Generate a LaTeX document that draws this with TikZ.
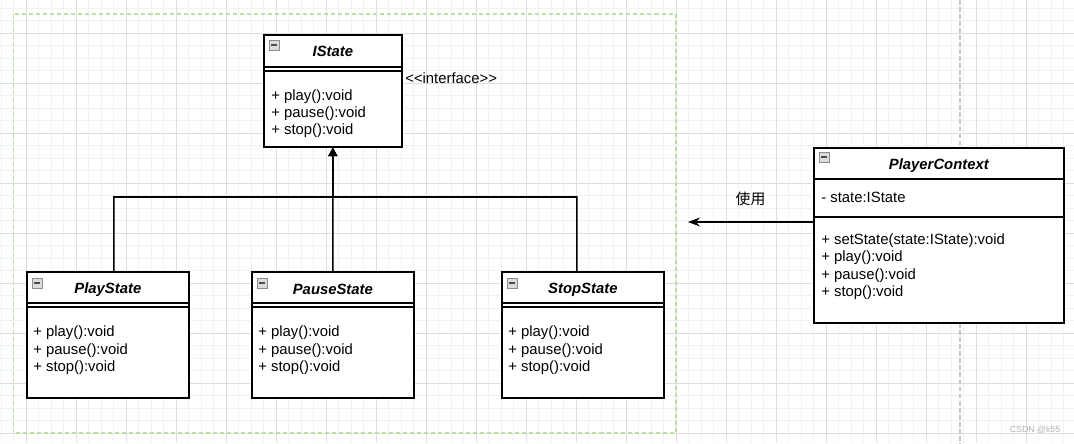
\documentclass[tikz,border=0pt]{standalone}
\usepackage{fontspec}
\setmainfont{Liberation Sans}
\newfontfamily\cjk{Noto Sans CJK SC}
\usepackage{tikz}
\usetikzlibrary{calc}
\usetikzlibrary{arrows.meta}
\tikzset{>={Stealth[width=1.8mm,length=2.4mm]}}
\definecolor{framegreen}{RGB}{185,224,165}

\begin{document}
\begin{tikzpicture}[
    x = 0.02cm, y = -0.02cm,
    font = \fontsize{8.45}{10}\selectfont,
    gridminor/.style = {draw=black!5, line width=0.55pt},
    gridmajor/.style = {draw=black!13, line width=0.55pt},
    cls/.style = {draw, line width=1pt, fill=white, inner sep=0pt,
        anchor=north west},
    sep/.style = {line width=1pt},
    title/.style = {inner sep=0pt, font=\fontsize{8.45}{10}\selectfont\bfseries\itshape},
    op/.style = {anchor=west, inner sep=0pt},
    icon/.style = {draw=black!45, fill=black!14, line width=0.5pt},
    inherit/.style = {line width=0.9pt, -{Triangle[length=1.7mm,width=1.8mm]}}
  ]
  \useasboundingbox (0,0) rectangle (1074,443);
  \fill[white] (0,0) rectangle (1074,443);
  \foreach \gx in {1,13.5,...,1074} \draw[gridminor] (\gx,0) -- (\gx,443);
  \foreach \gy in {8,20.5,...,443} \draw[gridminor] (0,\gy) -- (1074,\gy);
  \foreach \gx in {26,76,...,1074} \draw[gridmajor] (\gx,0) -- (\gx,443);
  \foreach \gy in {33,83,...,443} \draw[gridmajor] (0,\gy) -- (1074,\gy);

  \draw[black!22, line width=0.8pt, dash pattern=on 2.8pt off 1.2pt] (960,0) -- (960,443);
  \draw[framegreen, line width=0.85pt, dash pattern=on 2.3pt off 1.7pt]
    (13.5,14) rectangle (676,433);

  % interface
  \node[cls, minimum width=2.76cm, minimum height=2.24cm] (IState) at (263,34) {};
  \draw[sep] ($(IState.north west)+(0,33)$) -- ($(IState.north east)+(0,33)$)
             ($(IState.north west)+(0,37)$) -- ($(IState.north east)+(0,37)$);
  \draw[icon] ($(IState.north west)+(6,6)$) rectangle +(10,10);
  \draw[black!70, line width=0.8pt] ($(IState.north west)+(8,11)$) -- +(6,0);
  \node[title] (IState-name) at ($(IState.north)+(0,17.5)$) {IState};
  \foreach \m [count=\k] in {play,pause,stop}
    \node[op] (IState-\m) at ($(IState.north west)+(8,46+17*\k)$) {+ \m():void};
  \node[op] (IState-kind) at (405,78) {<\kern0pt<interface>\kern0pt>};

  % states
  \foreach \nm/\x in {PlayState/26, PauseState/251, StopState/501} {
    \node[cls, minimum width=3.24cm, minimum height=2.52cm] (\nm) at (\x,271) {};
    \draw[sep] ($(\nm.north west)+(0,32)$) -- ($(\nm.north east)+(0,32)$)
               ($(\nm.north west)+(0,36)$) -- ($(\nm.north east)+(0,36)$);
    \draw[icon] ($(\nm.north west)+(6,7)$) rectangle +(10,10);
    \draw[black!70, line width=0.8pt] ($(\nm.north west)+(8,12)$) -- +(6,0);
    \node[title] (\nm-name) at ($(\nm.north)+(0,18.5)$) {\nm};
    \foreach \m [count=\k] in {play,pause,stop}
      \node[op] (\nm-\m) at ($(\nm.north west)+(7,44.5+17.5*\k)$) {+ \m():void};
  }

  % context
  \node[cls, minimum width=5cm, minimum height=3.5cm] (PlayerContext) at (813,147) {};
  \draw[sep] ($(PlayerContext.north west)+(0,32)$) -- ($(PlayerContext.north east)+(0,32)$)
             ($(PlayerContext.north west)+(0,70)$) -- ($(PlayerContext.north east)+(0,70)$);
  \draw[icon] ($(PlayerContext.north west)+(6,5)$) rectangle +(10,10);
  \draw[black!70, line width=0.8pt] ($(PlayerContext.north west)+(8,10)$) -- +(6,0);
  \node[title] (PlayerContext-name) at ($(PlayerContext.north)+(0,18.5)$) {PlayerContext};
  \node[op] (PlayerContext-state) at (821,197) {- state:IState};
  \foreach \m [count=\k] in {setState(state:IState),play(),pause(),stop()}
    \node[op] (PlayerContext-op\k) at (821,223.5+17.3*\k) {+ \m:void};

  % connectors
  \coordinate (join) at (PauseState.north |- 0,197);
  \draw[inherit] ([xshift=0.12cm]PlayState.north) |- (join) -- (IState.south);
  \draw[inherit] (PauseState.north) -- (IState.south);
  \draw[inherit] ([xshift=-0.12cm]StopState.north) |- (join) -- (IState.south);

  \coordinate (usetip) at (688,222);
  \draw[->, line width=0.9pt] (usetip -| PlayerContext.west) -- (usetip)
    node[midway, above=0.3cm, inner sep=0pt] (uselbl) {\cjk 使用};

  \node[black!30, font=\fontsize{5}{6}\selectfont] (wm) at (1035,430) {CSDN @k55};
\end{tikzpicture}
\end{document}
